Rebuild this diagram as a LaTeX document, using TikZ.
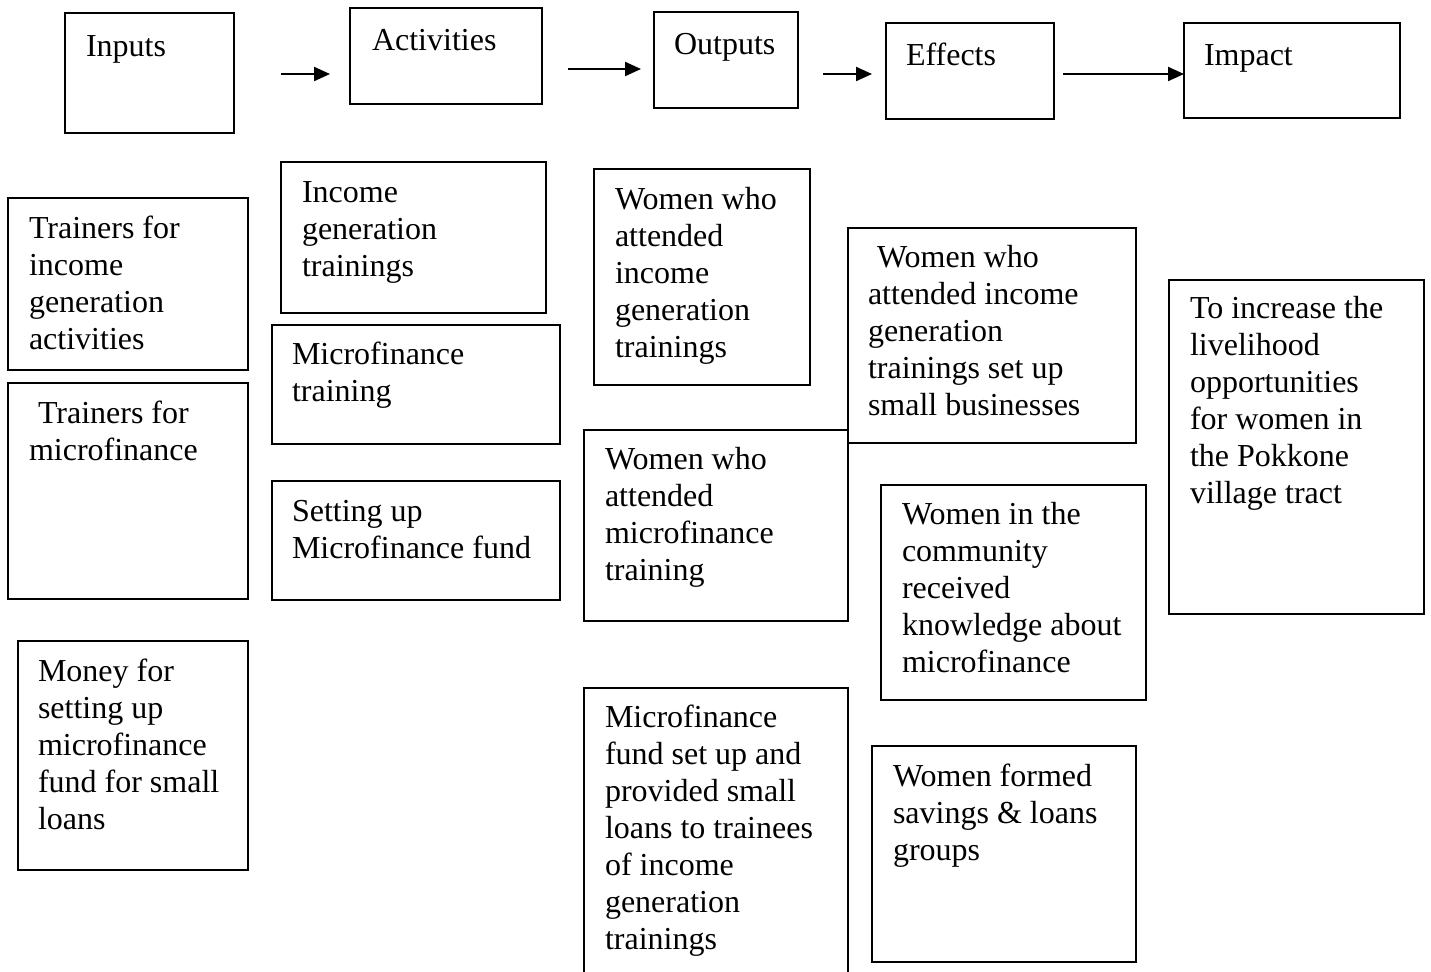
\documentclass[tikz,border=0pt]{standalone}
\usepackage{fontspec}
\setmainfont{Liberation Serif}
\usetikzlibrary{arrows.meta}
\tikzset{
  box/.style={draw, line width=1.6pt, anchor=north west, inner sep=0pt, outer sep=0pt},
  txt/.style={anchor=north west, inner sep=0pt, outer sep=0pt, align=left, font=\fontsize{32}{37}\selectfont},
  arr/.style={line width=2.2pt, -{Triangle[length=16pt,width=14pt]}}
}
\newcommand\mybox[5]{\node[box, minimum width=#4pt, minimum height=#5pt] (#1) at (#2,#3) {};}
\newcommand\mytxt[4]{\node[txt] (#1) at (#2,#3-24) {\strut #4};}
\begin{document}
\begin{tikzpicture}[x=1pt,y=-1pt]
\useasboundingbox (0,0) rectangle (1431,971);
% top row
\mybox{inputs}{65}{13}{169}{120}
\mytxt{inputsT}{86}{55}{Inputs}
\mybox{activities}{350}{8}{192}{96}
\mytxt{activitiesT}{372}{49}{Activities}
\mybox{outputs}{654}{12}{144}{96}
\mytxt{outputsT}{674}{53}{Outputs}
\mybox{effects}{886}{23}{168}{96}
\mytxt{effectsT}{906}{64}{Effects}
\mybox{impact}{1184}{23}{216}{95}
\mytxt{impactT}{1204}{64}{Impact}
% arrows
\coordinate (a1s) at (281,74); \coordinate (a1e) at (330,74);
\coordinate (a2s) at (568,69); \coordinate (a2e) at (641,69);
\coordinate (a3s) at (823,74); \coordinate (a3e) at (872,74);
\coordinate (a4s) at (1063,74);
\draw[arr] (a1s) -- (a1e);
\draw[arr] (a2s) -- (a2e);
\draw[arr] (a3s) -- (a3e);
\draw[arr] (a4s) -- (a4s -| impact.west);
% inputs column
\mybox{in1}{8}{198}{240}{172}
\mytxt{in1T}{29}{237}{Trainers for\\income\\generation\\activities}
\mybox{in2}{8}{383}{240}{216}
\mytxt{in2T}{29}{422}{\hspace*{9pt}Trainers for\\microfinance}
\mybox{in3}{18}{641}{230}{229}
\mytxt{in3T}{38}{680}{Money for\\setting up\\microfinance\\fund for small\\loans}
% activities column
\mybox{act1}{281}{162}{265}{151}
\mytxt{act1T}{302}{201}{Income\\generation\\trainings}
\mybox{act2}{272}{325}{288}{119}
\mytxt{act2T}{292}{363}{Microfinance\\training}
\mybox{act3}{272}{481}{288}{119}
\mytxt{act3T}{292}{520}{Setting up\\Microfinance fund}
% outputs column
\mybox{out1}{594}{169}{216}{216}
\mytxt{out1T}{615}{208}{Women who\\attended\\income\\generation\\trainings}
\mybox{out2}{584}{430}{264}{191}
\mytxt{out2T}{605}{468}{Women who\\attended\\microfinance\\training}
\mybox{out3}{584}{688}{264}{290}
\mytxt{out3T}{605}{726}{Microfinance\\fund set up and\\provided small\\loans to trainees\\of income\\generation\\trainings}
% effects column
\mybox{eff1}{848}{228}{288}{215}
\mytxt{eff1T}{868}{266}{\hspace*{9pt}Women who\\attended income\\generation\\trainings set up\\small businesses}
\mybox{eff2}{881}{485}{265}{215}
\mytxt{eff2T}{902}{523}{Women in the\\community\\received\\knowledge about\\microfinance}
\mybox{eff3}{872}{746}{264}{216}
\mytxt{eff3T}{893}{785}{Women formed\\savings \& loans\\groups}
% impact column
\mybox{imp1}{1169}{280}{255}{334}
\mytxt{imp1T}{1190}{317}{To increase the\\livelihood\\opportunities\\for women in\\the Pokkone\\village tract}
\end{tikzpicture}
\end{document}
